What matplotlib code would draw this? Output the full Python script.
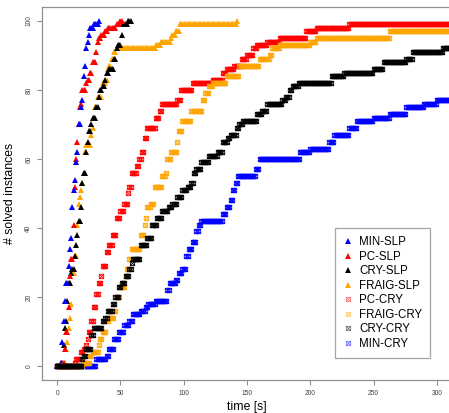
import numpy as np
import matplotlib
matplotlib.use("Agg")
import matplotlib.pyplot as plt
from matplotlib.path import Path

plt.rcParams['font.family'] = ['Liberation Sans', 'DejaVu Sans']

# step knots: (time [s], # solved)
min_slp_t = [0, 3, 4, 5, 6, 7, 9, 10, 11, 12, 13, 14, 15, 16, 17, 19, 20, 21, 22, 23, 24, 25, 26, 29, 33]
min_slp_n = [0, 1, 7, 13, 19, 24, 29, 34, 37, 46, 51, 54, 59, 62, 70, 75, 77, 84, 87, 92, 94, 96, 98, 99, 100]
min_slp_end = 33

pc_slp_t = [0, 4, 6, 7, 9, 10, 11, 13, 14, 15, 16, 17, 18, 19, 20, 23, 24, 26, 28, 31, 32, 33, 35, 38, 40, 47, 50]
pc_slp_n = [0, 1, 5, 10, 17, 26, 31, 41, 52, 60, 65, 70, 75, 76, 80, 82, 83, 85, 88, 91, 94, 95, 96, 97, 98, 99, 100]
pc_slp_end = 51

cry_slp_t = [0, 3, 5, 6, 7, 8, 9, 11, 12, 14, 15, 16, 17, 19, 20, 21, 23, 24, 25, 27, 28, 31, 33, 34, 36, 38, 39,
             41, 45, 47, 48, 51, 52, 56]
cry_slp_n = [0, 1, 6, 11, 13, 19, 24, 27, 28, 32, 35, 38, 42, 46, 53, 56, 62, 65, 68, 70, 72, 75, 78, 80, 81, 83, 85,
             86, 89, 92, 93, 96, 99, 100]
cry_slp_end = 58

fraig_slp_t = [0, 5, 7, 8, 9, 10, 11, 12, 14, 16, 17, 18, 19, 20, 21, 22, 23, 27, 28, 29, 30, 32, 36, 39, 40, 41,
               43, 45, 47, 78, 82, 90, 91, 94, 97, 142]
fraig_slp_n = [0, 1, 5, 7, 11, 14, 18, 27, 32, 41, 47, 49, 51, 53, 56, 62, 64, 67, 69, 72, 75, 78, 82, 83, 86, 87,
               89, 91, 92, 93, 94, 95, 96, 97, 99, 100]
fraig_slp_end = 142

pc_cry_t = [0, 14, 15, 19, 21, 23, 24, 25, 27, 29, 31, 33, 35, 36, 39, 41, 44, 47, 50, 53, 56, 57, 59, 63, 65, 67,
            69, 71, 78, 81, 83, 95, 98, 107, 123, 131, 134, 140, 146, 150, 155, 158, 166, 176, 197, 205, 231]
pc_cry_n = [0, 1, 2, 4, 5, 6, 8, 10, 13, 17, 21, 24, 26, 29, 33, 35, 38, 43, 45, 47, 50, 52, 56, 58, 60, 62,
            66, 69, 72, 74, 76, 77, 80, 82, 83, 85, 86, 87, 89, 90, 92, 93, 94, 95, 97, 98, 99]

fraig_cry_t = [0, 21, 26, 28, 33, 34, 36, 39, 41, 45, 47, 50, 54, 55, 57, 59, 66, 69, 70, 71, 74, 77, 83, 86, 87,
               90, 95, 96, 99, 106, 115, 117, 120, 123, 134, 144, 160, 168, 170, 176, 200, 205, 263]
fraig_cry_n = [0, 1, 3, 4, 6, 8, 10, 13, 14, 16, 20, 23, 26, 28, 31, 34, 38, 41, 43, 46, 47, 52, 55, 56, 60,
               62, 65, 68, 71, 74, 77, 79, 81, 82, 84, 87, 89, 90, 92, 93, 94, 95, 97]

cry_cry_t = [0, 20, 21, 23, 27, 29, 36, 38, 40, 44, 46, 49, 51, 54, 57, 59, 60, 66, 71, 75, 79, 83, 88, 91, 95, 99,
             103, 106, 108, 110, 114, 120, 127, 131, 135, 137, 142, 144, 147, 158, 162, 166, 178, 181, 184, 186,
             191, 217, 227, 250, 258, 276, 281, 305]
cry_cry_n = [0, 2, 3, 5, 9, 11, 13, 14, 16, 18, 20, 23, 24, 26, 28, 30, 31, 35, 37, 41, 43, 45, 46, 47, 49, 51,
             52, 53, 56, 57, 59, 61, 62, 65, 66, 67, 69, 70, 71, 73, 74, 76, 77, 78, 80, 81,
             82, 84, 85, 86, 88, 89, 91, 92]

min_cry_t = [0, 31, 39, 41, 45, 49, 53, 57, 60, 66, 70, 72, 78, 87, 89, 94, 96, 99, 102, 104, 107, 110, 112, 114,
             131, 134, 137, 139, 141, 143, 157, 160, 192, 200, 215, 219, 231, 237, 250, 263, 276, 290, 300]
min_cry_n = [0, 2, 3, 5, 8, 10, 12, 13, 15, 16, 17, 18, 19, 22, 24, 25, 27, 28, 32, 34, 36, 39, 41, 42,
             44, 46, 48, 51, 53, 55, 57, 60, 62, 63, 65, 67, 69, 71, 72, 73, 75, 76, 77]
cry_end = 310

legend_labels = ["MIN-SLP", "PC-SLP", "CRY-SLP", "FRAIG-SLP", "PC-CRY", "FRAIG-CRY", "CRY-CRY", "MIN-CRY"]


def step_counts(knot_t, knot_n, t_end):
    # count of solved instances sampled every second
    t = np.arange(0, t_end + 1)
    idx = np.searchsorted(knot_t, t, side='right') - 1
    return t, np.asarray(knot_n)[idx]


# square with a cross (R pch=7)
boxx = Path([(-1, -1), (1, -1), (1, 1), (-1, 1), (-1, -1), (-1, -1), (1, 1), (-1, 1), (1, -1)],
            [Path.MOVETO, Path.LINETO, Path.LINETO, Path.LINETO, Path.CLOSEPOLY,
             Path.MOVETO, Path.LINETO, Path.MOVETO, Path.LINETO])

fig = plt.figure(figsize=(4.49, 4.13), dpi=100)
ax = fig.add_axes([42 / 449, 33 / 413, 410 / 449, 373 / 413])

slp = [(fraig_slp_t, fraig_slp_n, fraig_slp_end, 'orange'),
       (cry_slp_t, cry_slp_n, cry_slp_end, 'black'),
       (pc_slp_t, pc_slp_n, pc_slp_end, 'red'),
       (min_slp_t, min_slp_n, min_slp_end, 'blue')]
for kt, kn, te, c in slp:
    t, n = step_counts(kt, kn, te)
    ax.plot(t, n, ls='none', marker='^', ms=4.0, mew=0, color=c)

cry = [(min_cry_t, min_cry_n, 'blue'),
       (pc_cry_t, pc_cry_n, 'red'),
       (fraig_cry_t, fraig_cry_n, 'orange'),
       (cry_cry_t, cry_cry_n, 'black')]
for kt, kn, c in cry:
    t, n = step_counts(kt, kn, cry_end)
    ax.plot(t, n, ls='none', marker=boxx, ms=3.2, mew=0.6, mfc='none', mec=c)

ax.set_xlim(-12, 312)
ax.set_ylim(-4, 104)
ax.set_xticks(np.arange(0, 301, 50))
ax.set_yticks(np.arange(0, 101, 20))
for s in ax.spines.values():
    s.set_color('#909090')
    s.set_linewidth(0.9)
ax.tick_params(colors='#909090', labelcolor='#404040', labelsize=4.8, length=3.5, width=0.8, pad=3.5)
for lab in ax.get_yticklabels():
    lab.set_rotation(90)
    lab.set_va('center')

fig.text(247 / 449, 1 - 407 / 413, "time [s]", ha='center', va='center', fontsize=8.8)
fig.text(10 / 449, 1 - 193 / 413, "# solved instances", ha='center', va='center', rotation=90, fontsize=8.8)

handles = []
for c in ['blue', 'red', 'black', 'orange']:
    handles.append(plt.Line2D([], [], ls='none', marker='^', ms=4.2, mew=0, color=c))
for c in ['red', 'orange', 'black', 'blue']:
    handles.append(plt.Line2D([], [], ls='none', marker=boxx, ms=3.2, mew=0.5, mfc='none', mec=c, alpha=0.6))
leg = fig.legend(handles, legend_labels, loc='upper left', bbox_to_anchor=(335 / 449, 1 - 228 / 413),
                 bbox_transform=fig.transFigure, fontsize=8.3, frameon=True, fancybox=False,
                 handlelength=0.8, handletextpad=0.6, labelspacing=0.22, borderpad=0.7, borderaxespad=0)
leg.get_frame().set_edgecolor('#909090')
leg.get_frame().set_linewidth(0.9)

fig.savefig("out.png", dpi=100)
